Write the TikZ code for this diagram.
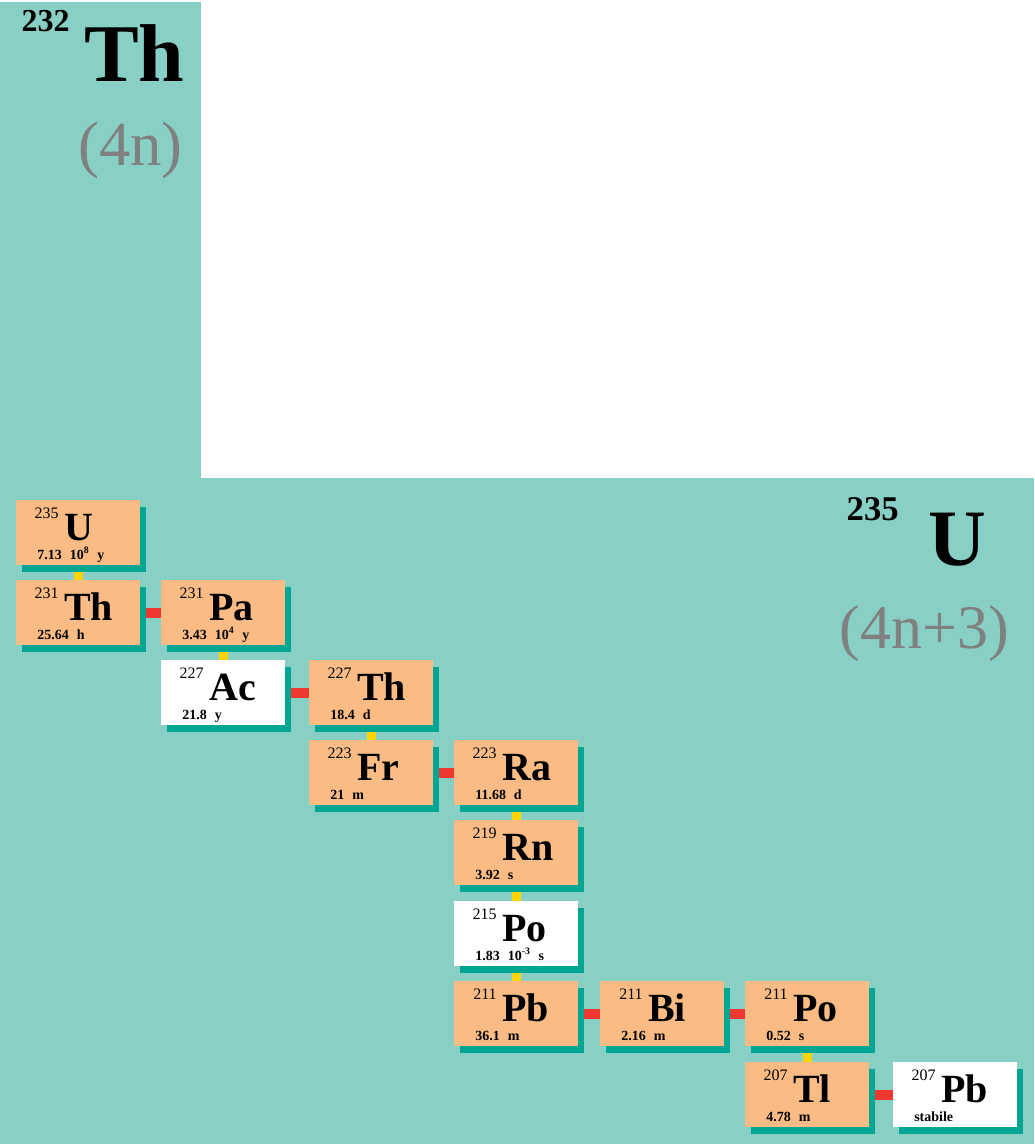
\documentclass[tikz,border=0pt]{standalone}
\usepackage{fontspec}
\setmainfont{Liberation Serif}
\usetikzlibrary{shadows}

\definecolor{panel}{RGB}{136,207,197}
\definecolor{boxorange}{RGB}{250,188,132}
\definecolor{boxshade}{RGB}{0,166,146}
\definecolor{linkred}{RGB}{238,56,48}
\definecolor{linkyellow}{RGB}{254,212,0}
\definecolor{seriesgray}{RGB}{128,128,128}

\pgfdeclarelayer{bg}
\pgfdeclarelayer{links}
\pgfsetlayers{bg,links,main}

\newcommand{\gp}{\hspace{6pt}}
% one nuclide: name, left, top, extra style, mass, symbol, half-life
\newcommand{\nuclide}[7]{%
  \node[nbox,#4] (#1) at (#2,#3) {};
  \node[mass] (#1-a) at (#2+43,#3+18) {#5};
  \node[elem] (#1-s) at (#2+48,#3+40) {#6};
  \node[life] (#1-t) at (#2+21,#3+59) {#7};
}

\begin{document}
\begin{tikzpicture}[x=0.75pt, y=-0.75pt,
    nbox/.style={rectangle, fill=boxorange, minimum width=93pt,
      minimum height=48.75pt, inner sep=0pt, anchor=north west,
      drop shadow={shadow xshift=4.5pt, shadow yshift=-5.25pt,
        fill=boxshade, opacity=1}},
    whitebox/.style={fill=white},
    mass/.style={anchor=base east, inner sep=0pt,
      font=\fontsize{12}{12}\selectfont},
    elem/.style={anchor=base west, inner sep=0pt,
      font=\bfseries\fontsize{30}{30}\selectfont},
    life/.style={anchor=base west, inner sep=0pt,
      font=\bfseries\fontsize{10.5}{11}\selectfont},
    alphalink/.style={draw=linkyellow, line width=7pt},
    betalink/.style={draw=linkred, line width=7.5pt}]
  \useasboundingbox (0,0) rectangle (1034,1144);
  \begin{pgfonlayer}{bg}
    \fill[panel] (0,2) rectangle (201,478);
    \fill[panel] (0,478) rectangle (1034,1144);
  \end{pgfonlayer}

  % series titles
  \node[anchor=base east, inner sep=0pt, font=\bfseries\fontsize{24}{24}\selectfont]
    (th-a) at (70,32) {232};
  \node[anchor=base west, inner sep=0pt, font=\bfseries\fontsize{61.5}{62}\selectfont]
    (th-s) at (84,82) {Th};
  \node[anchor=base east, inner sep=0pt, text=seriesgray,
    font=\fontsize{47}{47}\selectfont] (th-n) at (183,166) {(4n)};
  \node[anchor=base east, inner sep=0pt, font=\bfseries\fontsize{26}{26}\selectfont]
    (u-a) at (899,520) {235};
  \node[anchor=base west, inner sep=0pt, font=\bfseries\fontsize{60}{60}\selectfont]
    (u-s) at (928,565) {U};
  \node[anchor=base east, inner sep=0pt, text=seriesgray,
    font=\fontsize{46.5}{47}\selectfont] (u-n) at (1009,648) {(4n+3)};

  % chain
  \nuclide{U235}{16}{500}{}{235}{U}{7.13\gp10\textsuperscript{8}\gp y}
  \nuclide{Th231}{16}{580}{}{231}{Th}{25.64\gp h}
  \nuclide{Pa231}{161}{580}{}{231}{Pa}{3.43\gp10\textsuperscript{4}\gp y}
  \nuclide{Ac227}{161}{660}{whitebox}{227}{Ac}{21.8\gp y}
  \nuclide{Th227}{309}{660}{}{227}{Th}{18.4\gp d}
  \nuclide{Fr223}{309}{740}{}{223}{Fr}{21\gp m}
  \nuclide{Ra223}{454}{740}{}{223}{Ra}{11.68\gp d}
  \nuclide{Rn219}{454}{820}{}{219}{Rn}{3.92\gp s}
  \nuclide{Po215}{454}{901}{whitebox}{215}{Po}{1.83\gp10\textsuperscript{-3}\gp s}
  \nuclide{Pb211}{454}{981}{}{211}{Pb}{36.1\gp m}
  \nuclide{Bi211}{600}{981}{}{211}{Bi}{2.16\gp m}
  \nuclide{Po211}{745}{981}{}{211}{Po}{0.52\gp s}
  \nuclide{Tl207}{745}{1062}{}{207}{Tl}{4.78\gp m}
  \nuclide{Pb207}{893}{1062}{whitebox}{207}{Pb}{stabile}

  % decays
  \begin{pgfonlayer}{links}
    \draw[alphalink] (U235.south) -- (Th231.north);
    \draw[alphalink] (Pa231.south) -- (Ac227.north);
    \draw[alphalink] (Th227.south) -- (Fr223.north);
    \draw[alphalink] (Ra223.south) -- (Rn219.north);
    \draw[alphalink] (Rn219.south) -- (Po215.north);
    \draw[alphalink] (Po215.south) -- (Pb211.north);
    \draw[alphalink] (Po211.south) -- (Tl207.north);
    \draw[betalink] (Th231.east) -- (Pa231.west);
    \draw[betalink] (Ac227.east) -- (Th227.west);
    \draw[betalink] (Fr223.east) -- (Ra223.west);
    \draw[betalink] (Pb211.east) -- (Bi211.west);
    \draw[betalink] (Bi211.east) -- (Po211.west);
    \draw[betalink] (Tl207.east) -- (Pb207.west);
  \end{pgfonlayer}
\end{tikzpicture}
\end{document}
